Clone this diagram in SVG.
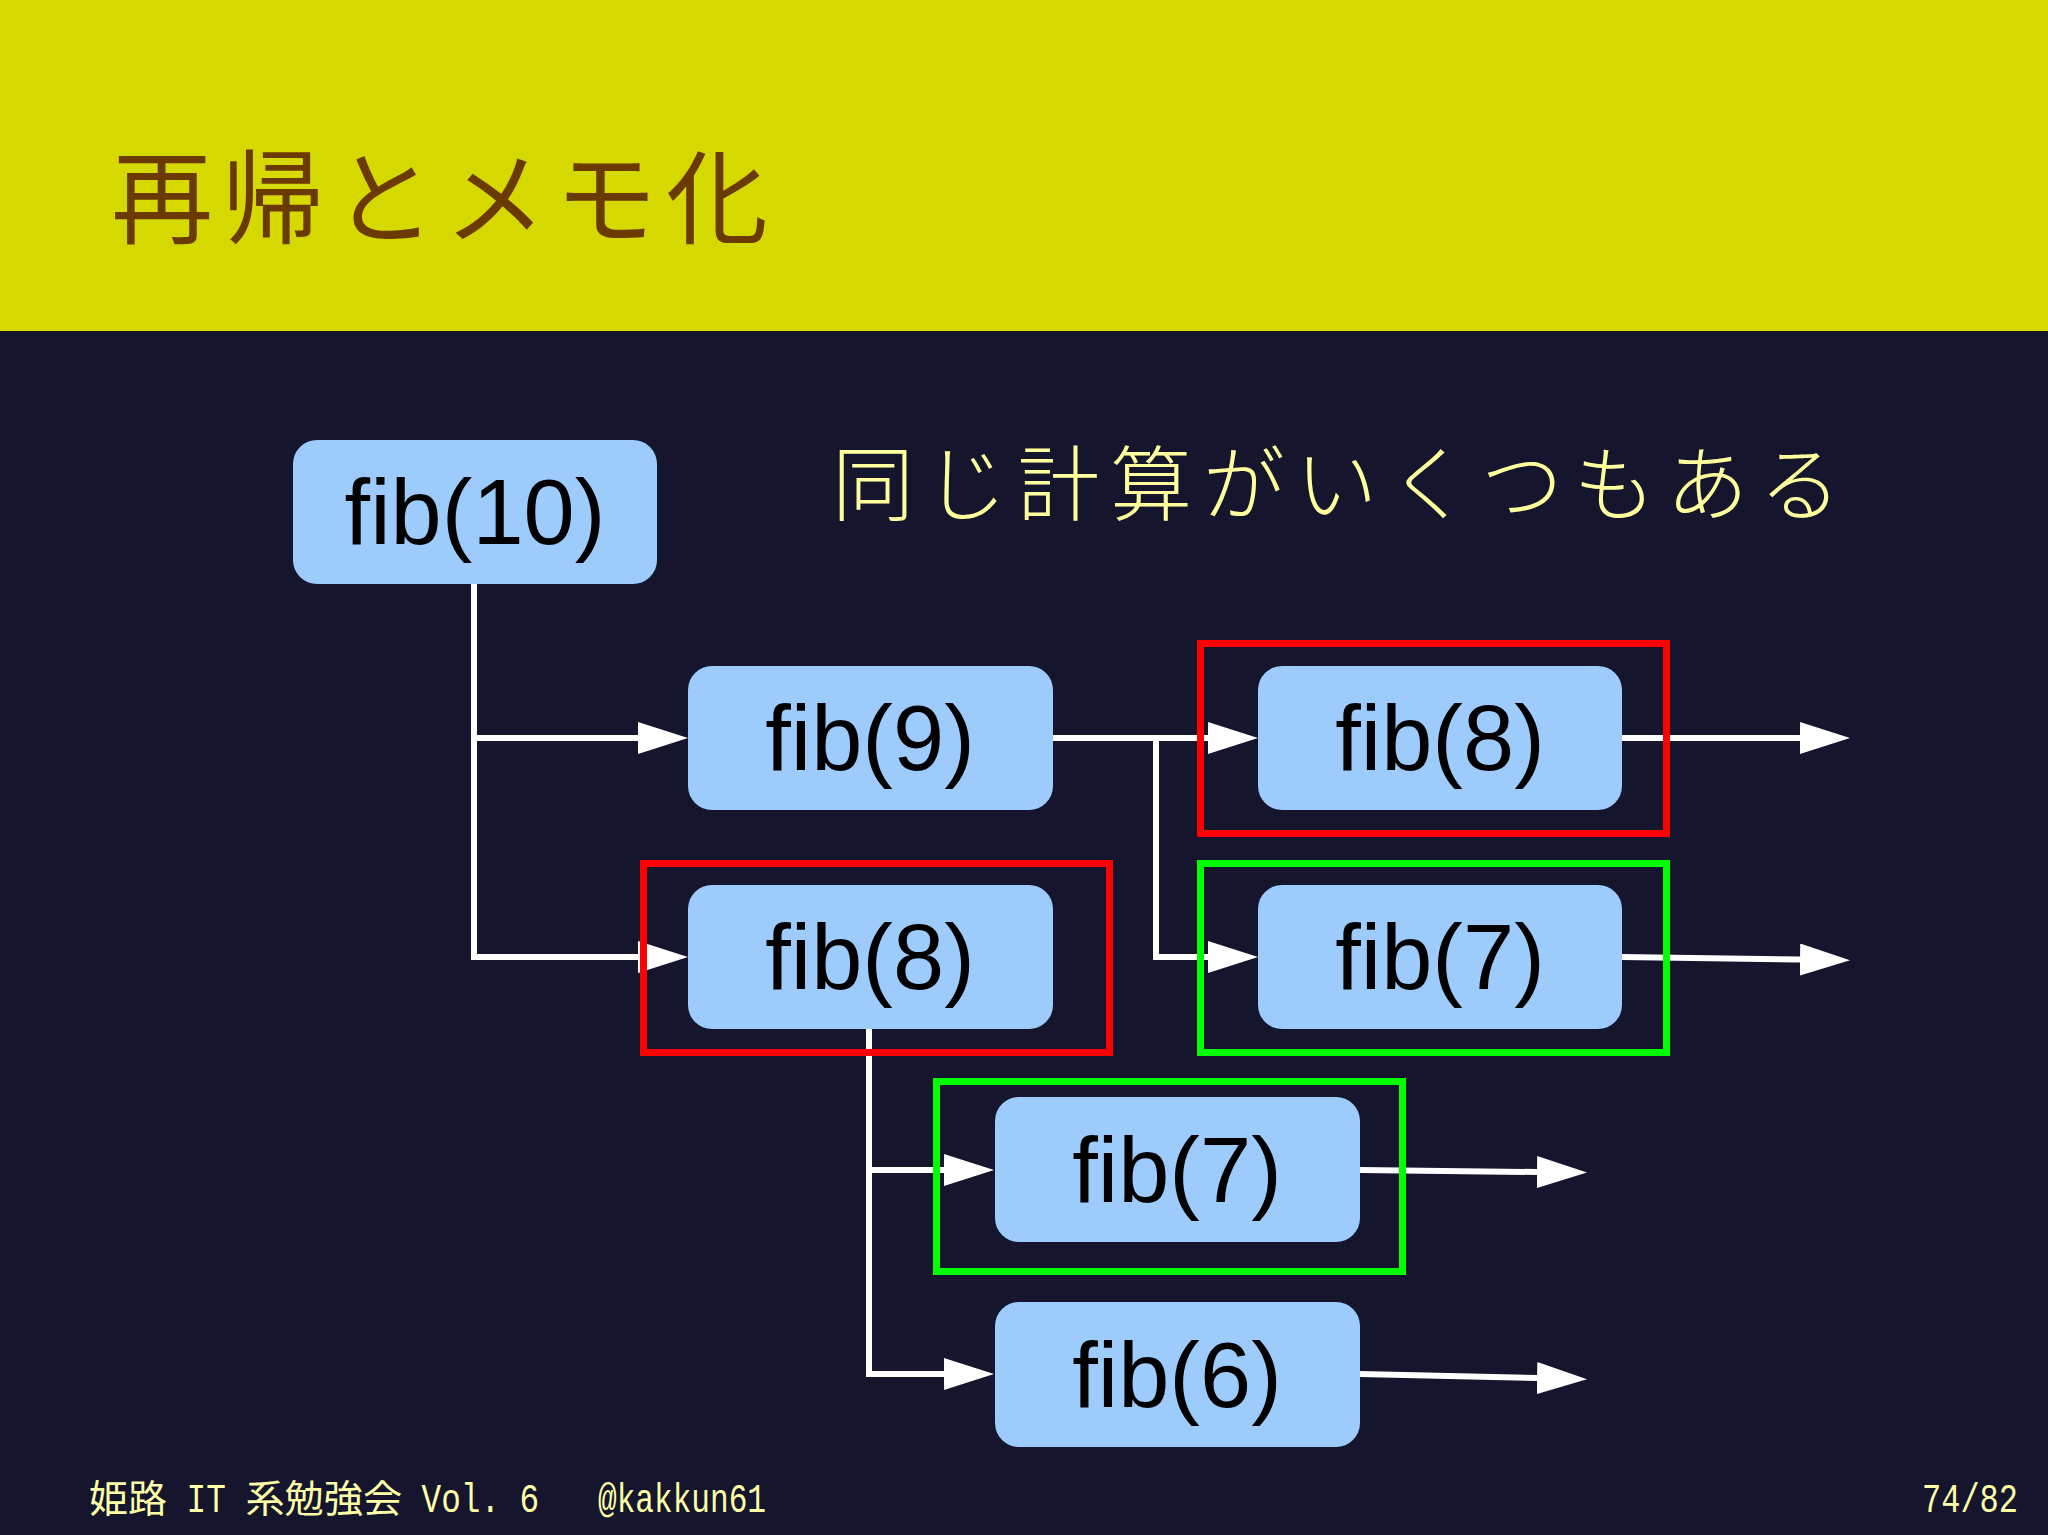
<svg xmlns="http://www.w3.org/2000/svg" width="2048" height="1535" viewBox="0 0 2048 1535">
<style>
.node rect{fill:#9ccbfc;}
.node text{font-family:"Liberation Sans",Arial,sans-serif;font-size:92px;fill:#000;text-anchor:middle;}
.conn path{fill:none;stroke:#ffffff;stroke-width:6;marker-end:url(#ah);}
.hl{fill:none;stroke-width:7;}
.red{stroke:#ff0000;}
.green{stroke:#00ff00;}
.foot{font-family:"Liberation Mono","DejaVu Sans Mono","Noto Sans CJK JP",monospace;font-size:40px;fill:#ffffa8;}
.footj{font-family:"Noto Sans CJK JP",sans-serif;font-size:38px;fill:#ffffa8;}
</style>
<defs>
<marker id="ah" markerUnits="userSpaceOnUse" markerWidth="52" markerHeight="34" refX="0" refY="16" orient="auto" viewBox="0 0 52 34">
<path d="M0,0 L50,16 L0,32 z" fill="#ffffff"/>
</marker>
</defs>
<rect x="0" y="0" width="2048" height="1535" fill="#15152e"/>
<rect x="0" y="0" width="2048" height="331" fill="#d6d900"/>
<text x="111" y="236" font-family="Noto Sans CJK JP,sans-serif" font-size="102" font-weight="400" letter-spacing="9" fill="#6b3a00">再帰とメモ化</text>
<text x="832" y="514" font-family="Noto Sans CJK JP,sans-serif" font-size="82" font-weight="300" letter-spacing="10.7" fill="#ffff9e">同じ計算がいくつもある</text>

<g id="connectors" class="conn">
<path d="M474,584 V738 H638"/>
<path d="M474,738 V957 H638"/>
<path d="M1053,738 H1208"/>
<path d="M1156,738 V957 H1208"/>
<path d="M1622,738 H1800"/>
<path d="M1622,957 L1800,959.5"/>
<path d="M869,1029 V1170 H944"/>
<path d="M869,1170 V1374 H944"/>
<path d="M1360,1170 L1537,1172"/>
<path d="M1360,1374 L1537,1378"/>
</g>

<g id="highlights">
<rect class="hl red" x="1200.5" y="643.5" width="466" height="190"/>
<rect class="hl red" x="643.5" y="863.5" width="466" height="189"/>
<rect class="hl green" x="1200.5" y="863.5" width="466" height="189"/>
<rect class="hl green" x="936.5" y="1081.5" width="466" height="190"/>
</g>

<g id="fib10" class="node"><rect x="293" y="440" width="364" height="144" rx="24"/><text x="475" y="544">fib(10)</text></g>
<g id="fib9" class="node"><rect x="688" y="666" width="365" height="144" rx="24"/><text x="870" y="770">fib(9)</text></g>
<g id="fib8a" class="node"><rect x="1258" y="666" width="364" height="144" rx="24"/><text x="1440" y="770">fib(8)</text></g>
<g id="fib8b" class="node"><rect x="688" y="885" width="365" height="144" rx="24"/><text x="870" y="989">fib(8)</text></g>
<g id="fib7a" class="node"><rect x="1258" y="885" width="364" height="144" rx="24"/><text x="1440" y="989">fib(7)</text></g>
<g id="fib7b" class="node"><rect x="995" y="1097" width="365" height="145" rx="24"/><text x="1177" y="1202">fib(7)</text></g>
<g id="fib6" class="node"><rect x="995" y="1302" width="365" height="145" rx="24"/><text x="1177" y="1407">fib(6)</text></g>

<g id="footer">
<text class="footj" x="89" y="1512" textLength="78" lengthAdjust="spacingAndGlyphs">姫路</text>
<text class="foot" x="186.6" y="1512" textLength="39.2" lengthAdjust="spacingAndGlyphs">IT</text>
<text class="footj" x="245.4" y="1512" textLength="156.8" lengthAdjust="spacingAndGlyphs">系勉強会</text>
<text class="foot" x="421.6" y="1512" textLength="117.6" lengthAdjust="spacingAndGlyphs">Vol. 6</text>
<text class="foot" x="598" y="1512" textLength="168" lengthAdjust="spacingAndGlyphs">@kakkun61</text>
<text class="foot" x="1922" y="1512" textLength="96" lengthAdjust="spacingAndGlyphs">74/82</text>
</g>
</svg>
